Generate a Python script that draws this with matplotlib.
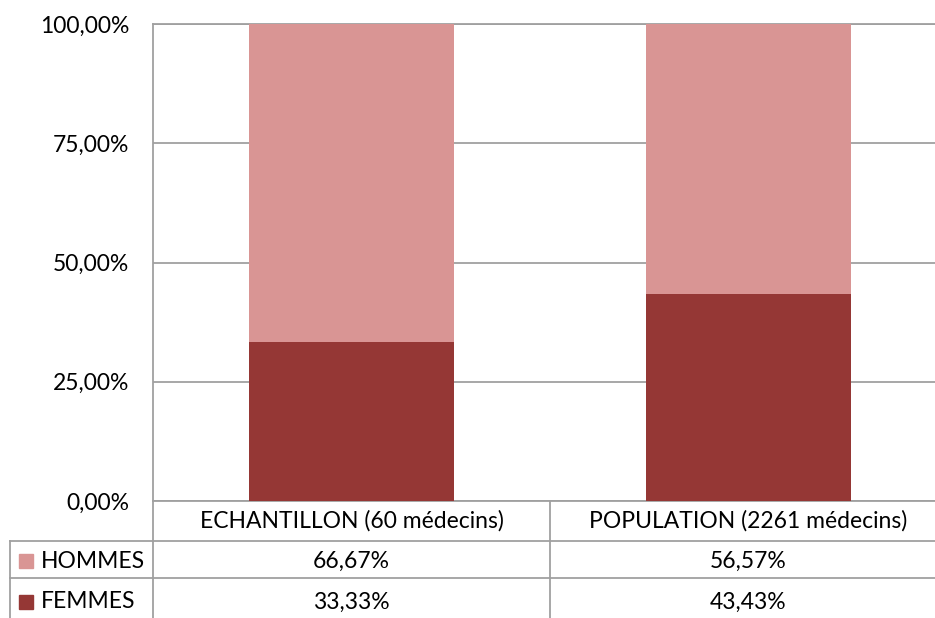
import matplotlib
matplotlib.use("Agg")
import matplotlib.pyplot as plt
from matplotlib.transforms import blended_transform_factory
from matplotlib.patches import Rectangle
from matplotlib.lines import Line2D

plt.rcParams['font.family'] = ['Lato', 'DejaVu Sans']

categories = ["ECHANTILLON (60 médecins)", "POPULATION (2261 médecins)"]
series_names = ["HOMMES", "FEMMES"]
femmes = [33.33, 43.43]
hommes = [66.67, 56.57]
yticks = [0, 25, 50, 75, 100]

col_femmes = "#953735"
col_hommes = "#D99594"
grid_col = "#A0A0A0"
fs = 16.5

W, H = 935, 618
fig = plt.figure(figsize=(W / 100, H / 100), dpi=100)
# plot area: x 153..947 px, y 24..501 px
ax = fig.add_axes([153 / W, (H - 501) / H, 794 / W, 477 / H])

x = list(range(len(categories)))
ax.bar(x, femmes, width=0.514, color=col_femmes, zorder=3)
ax.bar(x, hommes, width=0.514, bottom=femmes, color=col_hommes, zorder=3)

ax.set_xlim(-0.5, len(categories) - 0.5)
ax.set_ylim(0, 100)
ax.set_yticks(yticks)
ax.set_yticklabels([f"{v:.2f}".replace(".", ",") + "%" for v in yticks], fontsize=fs)
ax.tick_params(axis="y", length=0, pad=17)
ax.set_xticks([])
ax.yaxis.grid(True, color=grid_col, linewidth=1.3, zorder=0)
for s in ax.spines.values():
    s.set_color(grid_col)
    s.set_linewidth(1.3)

# data table beneath the plot
tr = blended_transform_factory(ax.transData, ax.transAxes)
px = 1 / 477  # axes-fraction per pixel in y
left_edge = -0.5 - (153 - 10) / 397  # table's left boundary in data units
right_edge = len(categories) - 0.5

y_hdr_bot = -40 * px
y_row1_bot = -77 * px
y_table_bot = -130 * px

line_kw = dict(color=grid_col, linewidth=1.3, transform=tr, clip_on=False)
table_lines = [
    Line2D([left_edge, right_edge], [y_hdr_bot, y_hdr_bot], **line_kw),
    Line2D([left_edge, right_edge], [y_row1_bot, y_row1_bot], **line_kw),
    Line2D([left_edge, left_edge], [y_hdr_bot, y_table_bot], **line_kw),
    Line2D([-0.5, -0.5], [0, y_table_bot], **line_kw),
]
for i in range(1, len(categories)):
    table_lines.append(Line2D([i - 0.5, i - 0.5], [0, y_table_bot], **line_kw))
for ln in table_lines:
    ax.add_line(ln)

y_hdr = -20 * px
y_row1 = -60 * px
y_row2 = -101 * px

for i, c in enumerate(categories):
    ax.text(i, y_hdr, c, transform=tr, ha="center", va="center", fontsize=fs, clip_on=False)
    ax.text(i, y_row1, f"{hommes[i]:.2f}".replace(".", ",") + "%", transform=tr,
            ha="center", va="center", fontsize=fs, clip_on=False)
    ax.text(i, y_row2, f"{femmes[i]:.2f}".replace(".", ",") + "%", transform=tr,
            ha="center", va="center", fontsize=fs, clip_on=False)

# legend keys inside the row headers
for name, col, yc in [(series_names[0], col_hommes, y_row1), (series_names[1], col_femmes, y_row2)]:
    yc_px = 501 - yc / px
    fig.patches.append(Rectangle((19 / W, 1 - yc_px / H - 7 / H), 14 / W, 14 / H,
                                 transform=fig.transFigure, color=col, zorder=5))
    fig.text(41 / W, 1 - yc_px / H, name, ha="left", va="center", fontsize=fs)

fig.savefig("out.png", dpi=100)
